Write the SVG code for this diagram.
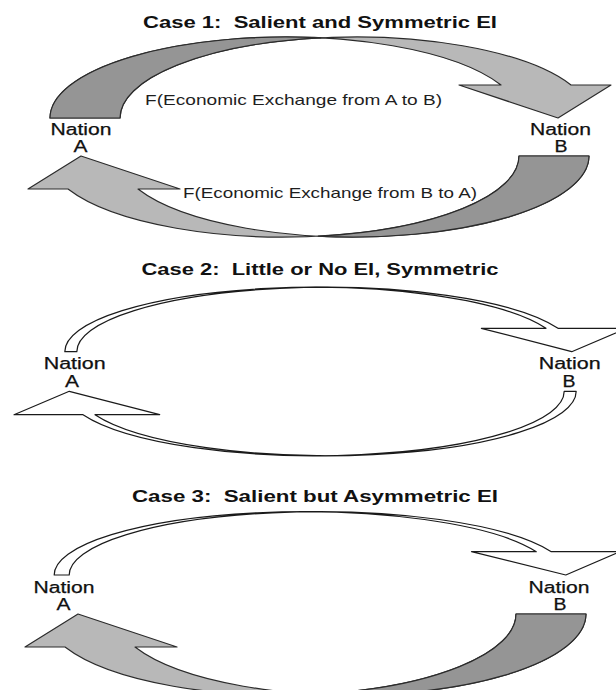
<svg xmlns="http://www.w3.org/2000/svg" width="616" height="690" viewBox="0 0 616 690">
<style>
  .title{font-family:"Liberation Sans",Arial,sans-serif;font-weight:bold;font-size:16px;fill:#111}
  .lbl{font-family:"Liberation Sans",Arial,sans-serif;font-size:16px;fill:#111;stroke:#111;stroke-width:0.25;text-anchor:middle}
  .flow{font-family:"Liberation Sans",Arial,sans-serif;font-size:15px;fill:#1e1e1e}
  .light{fill:#b8b8b8;stroke:#2b2b2b;stroke-width:1.2;stroke-linejoin:round}
  .dark{fill:#959595;stroke:#2b2b2b;stroke-width:1.2;stroke-linejoin:round}
  .hollow{fill:#fff;stroke:#1a1a1a;stroke-width:1.2;stroke-linejoin:round}
</style>
<defs>
  <g id="thickArrow">
    <path class="light" d="M558,118 L459,85 L501,85 A235.7,81 0 0,0 50,118 L120,118 A235.7,81 0 0,1 571,85 L611,85 Z"/>
    <path class="dark" d="M50,118 A235.7,81 0 0,1 320.7,37.9 A235.7,81 0 0,0 120,118 Z"/>
  </g>
  <path id="thinArrow2" class="hollow" d="M571.7,351.7 L481.3,328.3 L546,328.3 A249.1,64.4 0 0,0 64.8,351.7 L76.8,351.7 A249.1,64.4 0 0,1 558,328.3 L627,328.3 Z"/>
</defs>

<!-- Titles -->
<text class="title" x="320" y="28" text-anchor="middle" textLength="354" lengthAdjust="spacingAndGlyphs" xml:space="preserve">Case 1:  Salient and Symmetric EI</text>
<text class="title" x="320" y="275" text-anchor="middle" textLength="357" lengthAdjust="spacingAndGlyphs" xml:space="preserve">Case 2:  Little or No EI, Symmetric</text>
<text class="title" x="315" y="502" text-anchor="middle" textLength="366" lengthAdjust="spacingAndGlyphs" xml:space="preserve">Case 3:  Salient but Asymmetric EI</text>

<!-- Connectors -->
<g id="connectors">
  <use id="c1-AtoB" href="#thickArrow"/>
  <use id="c1-BtoA" href="#thickArrow" transform="rotate(180 319.5 137)"/>
  <use id="c2-AtoB" href="#thinArrow2"/>
  <use id="c2-BtoA" href="#thinArrow2" transform="rotate(180 320.5 371.5)"/>
  <path id="c3-AtoB" class="hollow" d="M565.8,575 L471.5,551.7 L536.3,551.7 A249.8,63.3 0 0,0 54.2,575 L69.2,575 A249.8,63.3 0 0,1 551.3,551.7 L620,551.7 Z"/>
  <use id="c3-BtoA" href="#thickArrow" transform="translate(-3 458) rotate(180 319.5 137)"/>
  <text class="flow" x="145" y="105" textLength="297" lengthAdjust="spacingAndGlyphs">F(Economic Exchange from A to B)</text>
  <text class="flow" x="183" y="198" textLength="294" lengthAdjust="spacingAndGlyphs">F(Economic Exchange from B to A)</text>
</g>

<!-- Case 1 nodes -->
<g id="case1-nationA">
  <text class="lbl" x="81" y="134.5" textLength="61" lengthAdjust="spacingAndGlyphs">Nation</text>
  <text class="lbl" x="80.5" y="152" textLength="14" lengthAdjust="spacingAndGlyphs">A</text>
</g>
<g id="case1-nationB">
  <text class="lbl" x="560.5" y="134.5" textLength="61" lengthAdjust="spacingAndGlyphs">Nation</text>
  <text class="lbl" x="561" y="152" textLength="13" lengthAdjust="spacingAndGlyphs">B</text>
</g>

<!-- Case 2 nodes -->
<g id="case2-nationA">
  <text class="lbl" x="74.7" y="369" textLength="62" lengthAdjust="spacingAndGlyphs">Nation</text>
  <text class="lbl" x="72" y="386.5" textLength="14" lengthAdjust="spacingAndGlyphs">A</text>
</g>
<g id="case2-nationB">
  <text class="lbl" x="569.7" y="369" textLength="62" lengthAdjust="spacingAndGlyphs">Nation</text>
  <text class="lbl" x="569" y="386.5" textLength="13" lengthAdjust="spacingAndGlyphs">B</text>
</g>

<!-- Case 3 nodes -->
<g id="case3-nationA">
  <text class="lbl" x="64" y="593" textLength="61" lengthAdjust="spacingAndGlyphs">Nation</text>
  <text class="lbl" x="63.5" y="609.5" textLength="14" lengthAdjust="spacingAndGlyphs">A</text>
</g>
<g id="case3-nationB">
  <text class="lbl" x="559" y="593" textLength="61" lengthAdjust="spacingAndGlyphs">Nation</text>
  <text class="lbl" x="560" y="609.5" textLength="13" lengthAdjust="spacingAndGlyphs">B</text>
</g>
</svg>
